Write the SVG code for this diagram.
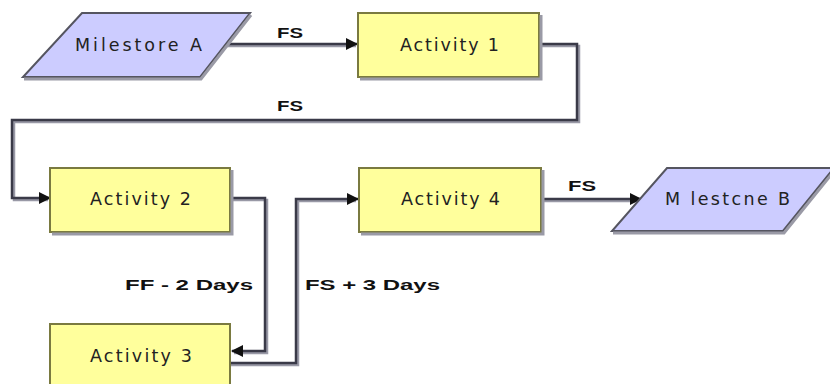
<svg xmlns="http://www.w3.org/2000/svg" width="830" height="384" viewBox="0 0 830 384">
<style>
.act{fill:#ffff9c;stroke:#7a7a40;stroke-width:2}
.ms{fill:#ccccff;stroke:#555560;stroke-width:2}
.sh{fill:none;stroke:#9a9aa6;stroke-width:3}
.nt{font-family:"DejaVu Sans",sans-serif;font-size:17.5px;fill:#222}
.cn{fill:none;stroke:#3a3a48;stroke-width:2.5}
.sd{fill:none;stroke:#9999a6;stroke-width:2.5}
.lb{font-family:"Liberation Sans",Arial,sans-serif;font-size:14px;font-weight:bold;fill:#111}
</style>
<defs>
<marker id="ah" markerWidth="12" markerHeight="12" refX="11" refY="6" orient="auto" markerUnits="userSpaceOnUse" viewBox="0 0 12 12">
<path d="M0,0 L12,6 L0,12 z" fill="#111"/>
</marker>
</defs>
<g id="connectors">
<g id="c1"><path class="sd" d="M225,46 L356,46"/><path class="cn" d="M225,44 L357,44" marker-end="url(#ah)"/><text class="lb" x="277" y="38" textLength="26" lengthAdjust="spacingAndGlyphs">FS</text></g>
<g id="c2"><path class="sd" d="M539,46 L579,46 L579,122 L14,122 L14,200 L48,200"/><path class="cn" d="M539,44 L577,44 L577,120 L12,120 L12,198 L50,198" marker-end="url(#ah)"/><text class="lb" x="277" y="111" textLength="26" lengthAdjust="spacingAndGlyphs">FS</text></g>
<g id="c3"><path class="sd" d="M230,200 L267,200 L267,353 L234,353"/><path class="cn" d="M230,198 L265,198 L265,351 L232,351" marker-end="url(#ah)"/><text class="lb" x="125" y="290" textLength="128" lengthAdjust="spacingAndGlyphs">FF - 2 Days</text></g>
<g id="c4"><path class="sd" d="M230,365 L298,365 L298,201 L356,201"/><path class="cn" d="M230,363 L296,363 L296,199 L358,199" marker-end="url(#ah)"/><text class="lb" x="305" y="290" textLength="135" lengthAdjust="spacingAndGlyphs">FS + 3 Days</text></g>
<g id="c5"><path class="sd" d="M541,201 L638,201"/><path class="cn" d="M541,199 L641,199" marker-end="url(#ah)"/><text class="lb" x="568" y="191" textLength="28" lengthAdjust="spacingAndGlyphs">FS</text></g>
</g>
<g id="milestoneA"><polygon class="ms" points="82,13 250,13 200,77 23,77"/><path class="sh" d="M251,15 L201,79 L24,79"/><text class="nt" x="75" y="51" textLength="127" lengthAdjust="spacing">Milestore A</text></g>
<g id="activity1"><rect class="act" x="358" y="13" width="181" height="64"/><path class="sh" d="M541,15 L541,79 L360,79"/><text class="nt" x="400" y="51" textLength="99" lengthAdjust="spacing">Activity 1</text></g>
<g id="activity2"><rect class="act" x="50" y="168" width="180" height="64"/><path class="sh" d="M232,170 L232,234 L52,234"/><text class="nt" x="90" y="205" textLength="101" lengthAdjust="spacing">Activity 2</text></g>
<g id="activity4"><rect class="act" x="359" y="168" width="182" height="64"/><path class="sh" d="M543,170 L543,234 L361,234"/><text class="nt" x="401" y="205" textLength="99" lengthAdjust="spacing">Activity 4</text></g>
<g id="milestoneB"><polygon class="ms" points="667,168 834,168 783,231 612,231"/><path class="sh" d="M835,170 L784,233 L613,233"/><text class="nt" x="665" y="205" textLength="125" lengthAdjust="spacing">M lestcne B</text></g>
<g id="activity3"><rect class="act" x="50" y="324" width="180" height="62"/><text class="nt" x="90" y="362" textLength="102" lengthAdjust="spacing">Activity 3</text></g>
</svg>
